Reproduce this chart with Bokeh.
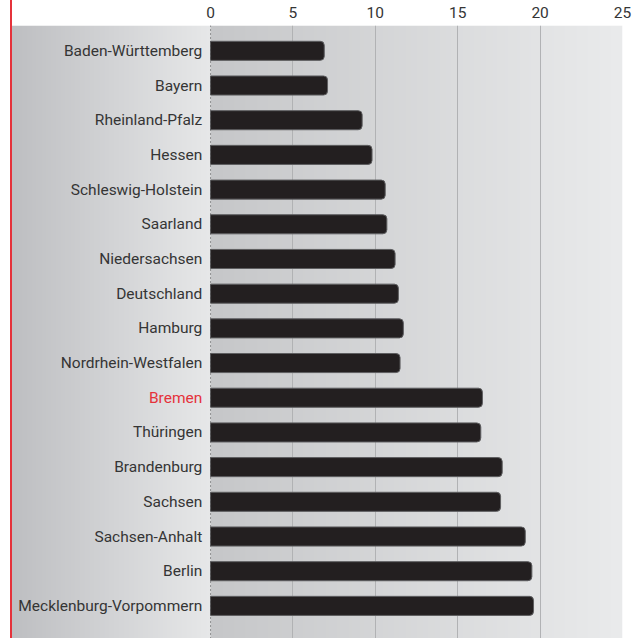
import numpy as np
from bokeh.plotting import figure
from bokeh.models import (ColumnDataSource, FixedTicker, Span, Range1d,
                          InlineStyleSheet)
from bokeh.core.properties import value
from bokeh.embed import file_html
from bokeh.resources import INLINE

# ---- data ----
categories = ["Baden-Württemberg", "Bayern", "Rheinland-Pfalz", "Hessen",
              "Schleswig-Holstein", "Saarland", "Niedersachsen", "Deutschland",
              "Hamburg", "Nordrhein-Westfalen", "Bremen", "Thüringen",
              "Brandenburg", "Sachsen", "Sachsen-Anhalt", "Berlin",
              "Mecklenburg-Vorpommern"]
values = [6.9, 7.1, 9.2, 9.8, 10.6, 10.7, 11.2, 11.4, 11.7, 11.5,
          16.5, 16.4, 17.7, 17.6, 19.1, 19.5, 19.6]
tick_values = [0, 5, 10, 15, 20, 25]
highlight = "Bremen"

RED = "#e5323b"
TEXT = "#353535"
FONT = "Roboto"

n = len(categories)
idx = list(range(n))
label_colors = [RED if c == highlight else TEXT for c in categories]

x_start, x_end = -12.08, 25
y_top, y_bottom = -0.73, (n - 1) + 0.94

css = InlineStyleSheet(css="""
:host { position: relative; }
:host::after { content: ""; position: absolute; left: 10px; top: 0px;
  width: 1.5px; height: 638px; background: #e5323b; z-index: 10; }
""")

p = figure(width=638, height=638, output_backend="svg", toolbar_location=None,
           x_axis_location="above",
           x_range=Range1d(x_start, x_end), y_range=Range1d(y_bottom, y_top),
           min_border_left=11, min_border_right=16, min_border_top=25,
           min_border_bottom=0, stylesheets=[css])
p.outline_line_color = None
p.background_fill_color = "white"
p.border_fill_color = "white"
p.yaxis.visible = False
p.ygrid.visible = False

# gradient background (label area + plot area)
cols = 1200
xs = np.linspace(x_start, x_end, cols)
img = np.zeros((1, cols), dtype=np.uint32)
view = img.view(dtype=np.uint8).reshape((1, cols, 4))
for j, xv in enumerate(xs):
    if xv < 0:
        t = (xv - x_start) / (0 - x_start)
        c0, c1 = np.array([190, 191, 194]), np.array([231, 232, 233])
    else:
        t = xv / x_end
        c0, c1 = np.array([198, 199, 201]), np.array([234, 235, 236])
    c = c0 + (c1 - c0) * t
    view[0, j, 0:3] = c.astype(np.uint8)
    view[0, j, 3] = 255
bg = p.image_rgba(image=[img], x=x_start, y=y_top, dw=x_end - x_start,
                  dh=y_bottom - y_top)
bg.level = "image"

# grid
p.xgrid.ticker = FixedTicker(ticks=[t for t in tick_values if t > 0])
p.xgrid.grid_line_color = "#b1b2b4"
p.xgrid.grid_line_width = 1

zero = Span(location=0, dimension="height", line_color="#4d4d4f",
            line_width=1, line_dash="1 3")
p.add_layout(zero)

# axis
ax = p.xaxis[0]
ax.ticker = FixedTicker(ticks=tick_values)
ax.axis_line_color = None
ax.major_tick_line_color = None
ax.minor_tick_line_color = None
ax.major_label_standoff = 2
ax.major_label_text_font = FONT
ax.major_label_text_font_size = "15.5px"
ax.major_label_text_color = TEXT

src = ColumnDataSource(dict(y=idx, v=values, name=categories, col=label_colors))

p.hbar(y="y", left=0, right="v", height=0.55, source=src,
       fill_color="#231f20", line_color="#5e5e60", line_width=1,
       border_radius=dict(top_left=0, top_right=4, bottom_right=4, bottom_left=0))

p.text(x=-0.5, y="y", text="name", source=src, text_align="right",
       text_baseline="middle", text_font=value(FONT), text_font_size="15.5px",
       text_color="col")

open("out.html", "w").write(file_html(p, INLINE))
